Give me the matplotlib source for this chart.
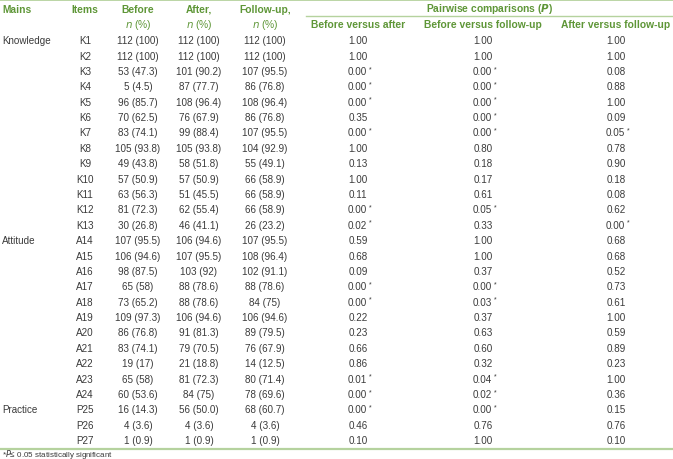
import matplotlib
matplotlib.use("Agg")
import matplotlib.pyplot as plt

plt.rcParams['font.family'] = ['Liberation Sans', 'DejaVu Sans']

mains = ["Knowledge"] + [""] * 12 + ["Attitude"] + [""] * 10 + ["Practice", "", ""]
items = ["K1", "K2", "K3", "K4", "K5", "K6", "K7", "K8", "K9", "K10", "K11", "K12", "K13",
         "A14", "A15", "A16", "A17", "A18", "A19", "A20", "A21", "A22", "A23", "A24",
         "P25", "P26", "P27"]
before = ["112 (100)", "112 (100)", "53 (47.3)", "5 (4.5)", "96 (85.7)", "70 (62.5)", "83 (74.1)",
          "105 (93.8)", "49 (43.8)", "57 (50.9)", "63 (56.3)", "81 (72.3)", "30 (26.8)",
          "107 (95.5)", "106 (94.6)", "98 (87.5)", "65 (58)", "73 (65.2)", "109 (97.3)",
          "86 (76.8)", "83 (74.1)", "19 (17)", "65 (58)", "60 (53.6)",
          "16 (14.3)", "4 (3.6)", "1 (0.9)"]
after = ["112 (100)", "112 (100)", "101 (90.2)", "87 (77.7)", "108 (96.4)", "76 (67.9)", "99 (88.4)",
         "105 (93.8)", "58 (51.8)", "57 (50.9)", "51 (45.5)", "62 (55.4)", "46 (41.1)",
         "106 (94.6)", "107 (95.5)", "103 (92)", "88 (78.6)", "88 (78.6)", "106 (94.6)",
         "91 (81.3)", "79 (70.5)", "21 (18.8)", "81 (72.3)", "84 (75)",
         "56 (50.0)", "4 (3.6)", "1 (0.9)"]
followup = ["112 (100)", "112 (100)", "107 (95.5)", "86 (76.8)", "108 (96.4)", "86 (76.8)", "107 (95.5)",
            "104 (92.9)", "55 (49.1)", "66 (58.9)", "66 (58.9)", "66 (58.9)", "26 (23.2)",
            "107 (95.5)", "108 (96.4)", "102 (91.1)", "88 (78.6)", "84 (75)", "106 (94.6)",
            "89 (79.5)", "76 (67.9)", "14 (12.5)", "80 (71.4)", "78 (69.6)",
            "68 (60.7)", "4 (3.6)", "1 (0.9)"]
p_before_after = ["1.00", "1.00", "0.00*", "0.00*", "0.00*", "0.35", "0.00*", "1.00", "0.13", "1.00",
                  "0.11", "0.00*", "0.02*", "0.59", "0.68", "0.09", "0.00*", "0.00*", "0.22", "0.23",
                  "0.66", "0.86", "0.01*", "0.00*", "0.00*", "0.46", "0.10"]
p_before_follow = ["1.00", "1.00", "0.00*", "0.00*", "0.00*", "0.00*", "0.00*", "0.80", "0.18", "0.17",
                   "0.61", "0.05*", "0.33", "1.00", "1.00", "0.37", "0.00*", "0.03*", "0.37", "0.63",
                   "0.60", "0.32", "0.04*", "0.02*", "0.00*", "0.76", "1.00"]
p_after_follow = ["1.00", "1.00", "0.08", "0.88", "1.00", "0.09", "0.05*", "0.78", "0.90", "0.18",
                  "0.08", "0.62", "0.00*", "0.68", "0.68", "0.52", "0.73", "0.61", "1.00", "0.59",
                  "0.89", "0.23", "1.00", "0.36", "0.15", "0.76", "0.10"]

W, H = 673, 460
fig = plt.figure(figsize=(W / 100, H / 100), dpi=100)
ax = fig.add_axes([0, 0, 1, 1])
ax.set_xlim(0, W)
ax.set_ylim(H, 0)
ax.axis('off')

GREEN = '#5e9637'
LINE = '#b5d29e'
TXT = '#3a3a3a'
FS = 7.1
HFS = 7.4

# rules
ax.plot([0, W], [0.8, 0.8], color=LINE, lw=1.3)
ax.plot([306, W], [16.5, 16.5], color=LINE, lw=1.0)
ax.plot([0, W], [449.5, 449.5], color=LINE, lw=1.6)

# headers
hb = dict(color=GREEN, fontsize=HFS, fontweight='bold', va='center')
ax.text(2, 10, "Mains", ha='left', **hb)
ax.text(85, 10, "Items", ha='center', **hb)
ax.text(138, 10, "Before", ha='center', **hb)
ax.text(199, 10, "After,", ha='center', **hb)
ax.text(265, 10, "Follow-up,", ha='center', **hb)
ax.text(489, 9, "Pairwise comparisons ($\\mathbfit{P}$)", ha='center', **hb)
ax.text(358, 25, "Before versus after", ha='center', **hb)
ax.text(483, 25, "Before versus follow-up", ha='center', **hb)
ax.text(616, 25, "After versus follow-up", ha='center', **hb)
for x in (138, 199, 265):
    ax.text(x, 25, "$\\mathit{n}$ (%)", ha='center', va='center', color=GREEN, fontsize=HFS)

# body
y0, dy = 41.2, 15.38
cols = [(85, items), (138, before), (199, after), (265, followup),
        (358, p_before_after), (483, p_before_follow), (616, p_after_follow)]
for i in range(len(items)):
    y = y0 + i * dy
    if mains[i]:
        ax.text(2, y, mains[i], ha='left', va='center', color=TXT, fontsize=FS)
    for x, arr in cols:
        s = arr[i]
        if s.endswith('*'):
            ax.text(x - 1, y, s[:-1], ha='center', va='center', color=TXT, fontsize=FS)
            ax.text(x + 10.5, y - 2.5, '*', ha='left', va='center', color=TXT, fontsize=FS - 2)
        else:
            ax.text(x, y, s, ha='center', va='center', color=TXT, fontsize=FS)

ax.text(2, 454.3, "*$\\mathit{P}$\u2264 0.05 statistically significant", ha='left', va='center',
        color=TXT, fontsize=5.8)

fig.savefig("out.png", dpi=100)
